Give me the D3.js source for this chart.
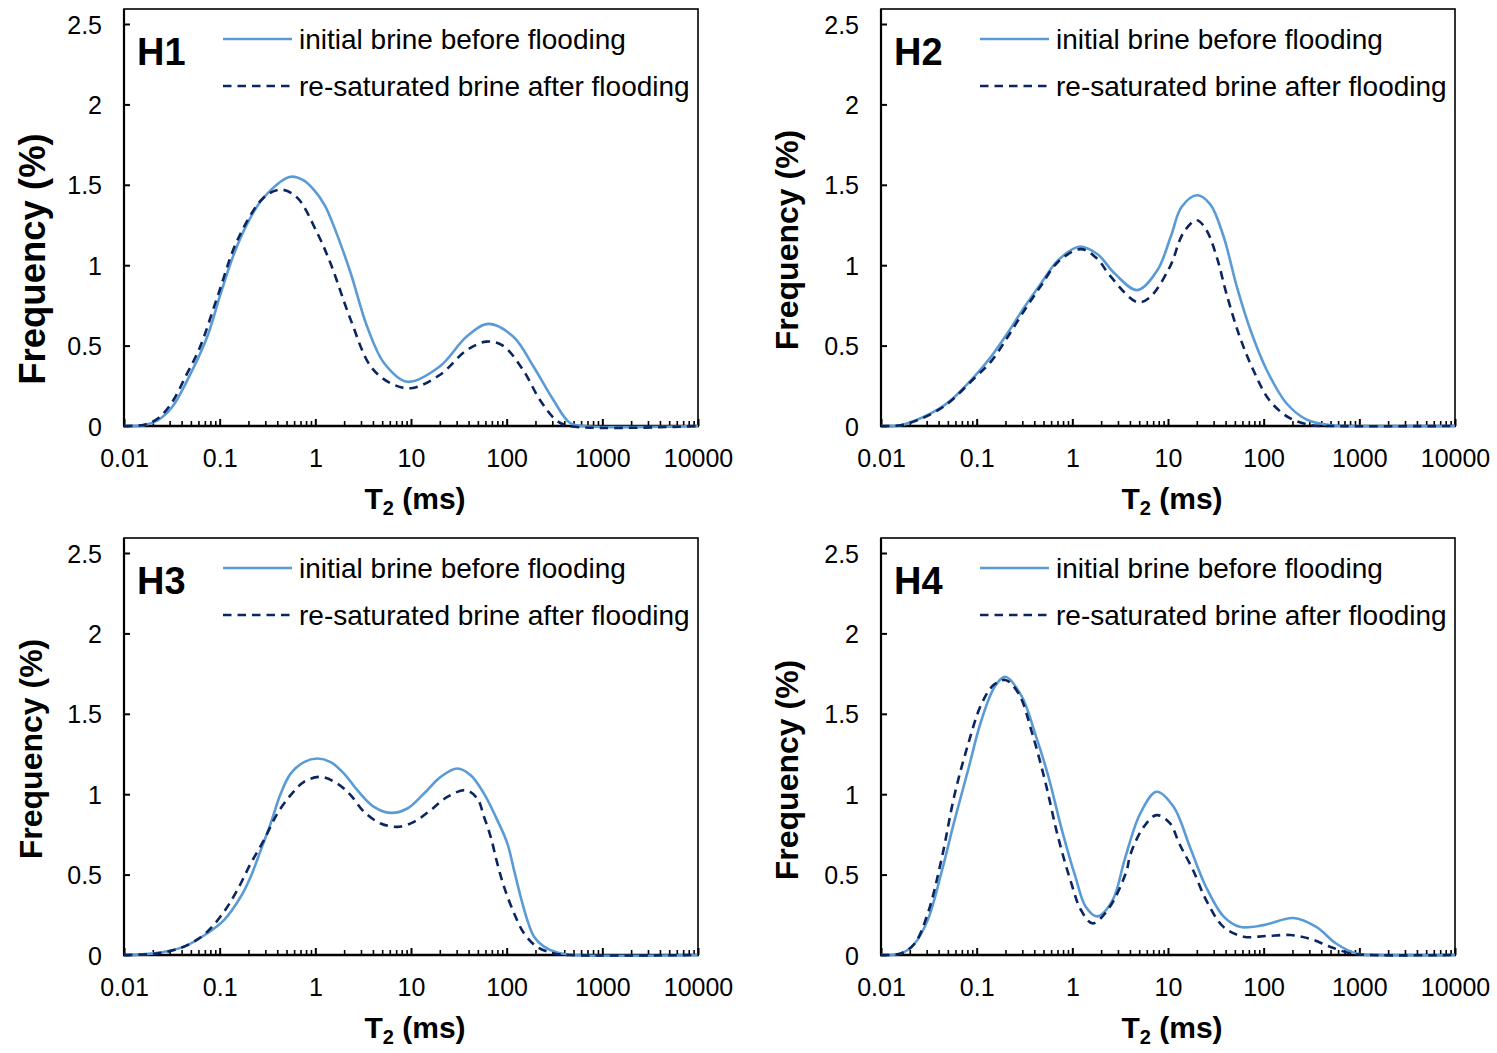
<!DOCTYPE html>
<html><head><meta charset="utf-8">
<script src="https://cdn.jsdelivr.net/npm/d3@7"></script>
<style>html,body{margin:0;padding:0;background:#fff;} svg{display:block;}</style>
</head><body>
<svg id="chart" width="1497" height="1053"></svg>
<script>
// ---------- data (T2 in ms, frequency in %) ----------
const panelNames = ["H1", "H2", "H3", "H4"];
const seriesNames = ["initial brine before flooding", "re-saturated brine after flooding"];
const xTickValues = [0.01, 0.1, 1, 10, 100, 1000, 10000];
const xTickLabels = ["0.01", "0.1", "1", "10", "100", "1000", "10000"];
const yTickValues = [0, 0.5, 1, 1.5, 2, 2.5];
const yTickLabels = ["0", "0.5", "1", "1.5", "2", "2.5"];

const h1InitT2 = [0.01, 0.0162, 0.0224, 0.0316, 0.0501, 0.0741, 0.102, 0.141, 0.195, 0.288, 0.55, 0.741, 0.977, 1.259, 1.567, 2.344, 3.467, 5.248, 9.12, 19.95, 38.02, 64.57, 117.5, 190.5, 309, 457.1, 631, 10000];
const h1Init   = [0, 0.005, 0.035, 0.115, 0.33, 0.555, 0.82, 1.07, 1.26, 1.42, 1.55, 1.53, 1.465, 1.37, 1.24, 0.95, 0.62, 0.39, 0.275, 0.37, 0.555, 0.635, 0.555, 0.37, 0.16, 0.02, 0, 0];
const h1ResatT2 = [0.01, 0.0162, 0.0224, 0.0316, 0.0442, 0.0622, 0.0968, 0.153, 0.288, 0.437, 0.646, 1.047, 1.445, 2.344, 3.80, 6.166, 10, 19.95, 38.02, 61.66, 91.2, 147.9, 223.9, 331.1, 446.7, 10000];
const h1Resat   = [0, 0.008, 0.045, 0.145, 0.31, 0.49, 0.82, 1.155, 1.42, 1.47, 1.42, 1.2, 1.01, 0.66, 0.37, 0.265, 0.235, 0.317, 0.47, 0.525, 0.50, 0.35, 0.16, 0.035, 0, 0];

const h2InitT2 = [0.01, 0.0162, 0.0263, 0.0398, 0.0537, 0.0955, 0.141, 0.209, 0.316, 0.468, 0.708, 1.175, 1.82, 2.754, 4.786, 7.762, 10.72, 13.8, 19.95, 27.54, 38.02, 52.48, 72.44, 107.2, 173.8, 281.8, 501.2, 1000, 10000];
const h2Init   = [0, 0.005, 0.05, 0.105, 0.16, 0.31, 0.43, 0.575, 0.74, 0.885, 1.03, 1.115, 1.07, 0.95, 0.845, 0.97, 1.18, 1.36, 1.435, 1.38, 1.18, 0.865, 0.60, 0.35, 0.14, 0.04, 0.005, 0, 0];
const h2ResatT2 = [0.01, 0.0162, 0.0263, 0.0398, 0.0537, 0.0955, 0.141, 0.209, 0.316, 0.468, 0.708, 1.23, 1.82, 2.51, 4.786, 6.457, 10.47, 14.45, 19.95, 25.12, 32.36, 40.74, 56.23, 77.62, 114.8, 186.2, 316.2, 501.2, 10000];
const h2Resat   = [0, 0.005, 0.045, 0.10, 0.155, 0.30, 0.40, 0.55, 0.72, 0.87, 1.02, 1.10, 1.04, 0.93, 0.77, 0.80, 0.99, 1.20, 1.28, 1.22, 1.05, 0.825, 0.555, 0.35, 0.16, 0.05, 0.005, 0, 0];

const h3InitT2 = [0.01, 0.0206, 0.0424, 0.0743, 0.111, 0.166, 0.211, 0.269, 0.341, 0.435, 0.552, 0.762, 1.05, 1.445, 1.995, 2.748, 4.10, 6.12, 9.16, 13.68, 20.42, 30.48, 42.07, 57.94, 79.8, 101.6, 119.4, 140, 164.4, 193.2, 245.5, 338.1, 501.2, 10000];
const h3Init   = [0, 0.01, 0.052, 0.135, 0.217, 0.362, 0.487, 0.652, 0.818, 1.004, 1.128, 1.2, 1.222, 1.2, 1.128, 1.025, 0.921, 0.884, 0.911, 1.004, 1.108, 1.16, 1.118, 1.004, 0.839, 0.694, 0.528, 0.362, 0.217, 0.114, 0.052, 0.015, 0, 0];
const h3ResatT2 = [0.01, 0.0206, 0.0333, 0.0498, 0.0743, 0.111, 0.153, 0.211, 0.290, 0.401, 0.552, 0.762, 1.138, 1.698, 2.339, 3.228, 4.819, 7.194, 10.74, 16.07, 23.99, 37.24, 49.32, 57.94, 68.08, 79.8, 93.76, 119.4, 151.7, 208.9, 312.6, 446.7, 10000];
const h3Resat   = [0, 0.008, 0.031, 0.072, 0.145, 0.269, 0.404, 0.569, 0.714, 0.880, 0.994, 1.077, 1.108, 1.066, 0.994, 0.890, 0.818, 0.797, 0.828, 0.901, 0.983, 1.025, 0.973, 0.86, 0.735, 0.57, 0.425, 0.26, 0.135, 0.05, 0.01, 0, 0];

const h4InitT2 = [0.01, 0.0162, 0.0224, 0.0309, 0.0427, 0.0589, 0.0813, 0.112, 0.155, 0.2, 0.295, 0.407, 0.562, 0.776, 1.072, 1.38, 1.82, 2.63, 3.548, 5.13, 7.586, 11.48, 16.98, 25.12, 38.02, 56.23, 100, 204.2, 354.8, 575.4, 933.3, 1585, 10000];
const h4Init   = [0, 0.01, 0.07, 0.22, 0.51, 0.84, 1.15, 1.46, 1.67, 1.73, 1.61, 1.38, 1.11, 0.78, 0.49, 0.30, 0.24, 0.34, 0.60, 0.88, 1.015, 0.92, 0.67, 0.42, 0.24, 0.175, 0.186, 0.23, 0.175, 0.07, 0.01, 0, 0];
const h4ResatT2 = [0.01, 0.0162, 0.0224, 0.0309, 0.0427, 0.0589, 0.0813, 0.112, 0.151, 0.2, 0.275, 0.380, 0.525, 0.708, 0.977, 1.23, 1.62, 2.344, 3.63, 4.07, 5.623, 7.586, 10.47, 13.18, 18.2, 25.12, 38.02, 61.66, 107.2, 190.5, 309, 501.2, 812.8, 1259, 10000];
const h4Resat   = [0, 0.01, 0.07, 0.26, 0.59, 1.0, 1.31, 1.56, 1.68, 1.71, 1.625, 1.38, 1.07, 0.735, 0.445, 0.28, 0.197, 0.28, 0.51, 0.63, 0.80, 0.87, 0.82, 0.69, 0.53, 0.34, 0.175, 0.114, 0.118, 0.124, 0.10, 0.05, 0.01, 0, 0];

const initT2 = [h1InitT2, h2InitT2, h3InitT2, h4InitT2];
const initVals = [h1Init, h2Init, h3Init, h4Init];
const resatT2 = [h1ResatT2, h2ResatT2, h3ResatT2, h4ResatT2];
const resatVals = [h1Resat, h2Resat, h3Resat, h4Resat];

// ---------- layout ----------
const FONT = "'Liberation Sans', Arial, Helvetica, sans-serif";
const W = 574, H = 417;
const panelPos = [
  {x: 124, y: 9,   ytx: 32,  yty: 259, ytSize: 36.5},
  {x: 881, y: 9,   ytx: 787, yty: 240, ytSize: 32},
  {x: 124, y: 538, ytx: 31,  yty: 749, ytSize: 32},
  {x: 881, y: 538, ytx: 787, yty: 770, ytSize: 32}
];
const solidColor = "#5b9bd5";
const dashColor = "#0b2561";

const svg = d3.select("#chart");
const x = d3.scaleLog().domain([0.01, 10000]).range([0, W]);
const y = d3.scaleLinear().domain([0, 2.5]).range([H, H - 402]);

const minorTicks = [];
for (let d = -2; d < 4; d++) for (let k = 2; k <= 9; k++) minorTicks.push(k * Math.pow(10, d));

const line = d3.line().x(d => x(d.t)).y(d => Math.min(y(0), y(d.v))).curve(d3.curveCatmullRom.alpha(0.5));

panelNames.forEach((name, i) => {
  const p = panelPos[i];
  const g = svg.append("g").attr("transform", `translate(${p.x},${p.y})`);

  // box
  g.append("rect").attr("x", 0).attr("y", 0).attr("width", W).attr("height", H)
    .attr("fill", "none").attr("stroke", "#000").attr("stroke-width", 1.6);
  g.append("line").attr("x1", 0).attr("x2", 0).attr("y1", 0).attr("y2", H)
    .attr("stroke", "#000").attr("stroke-width", 2.2);
  g.append("line").attr("x1", -1).attr("x2", W + 1).attr("y1", H).attr("y2", H)
    .attr("stroke", "#000").attr("stroke-width", 2.6);

  // y axis
  const ya = g.append("g").call(d3.axisLeft(y).tickValues(yTickValues)
      .tickFormat((d, j) => yTickLabels[j]).tickSizeInner(-6).tickSizeOuter(0).tickPadding(22));
  ya.select(".domain").remove();
  ya.selectAll("line").attr("stroke", "#000").attr("stroke-width", 2);
  ya.selectAll("text").attr("font-family", FONT).attr("font-size", 25).attr("fill", "#000").attr("dy", "0.36em");

  // x axis majors
  const xa = g.append("g").attr("transform", `translate(0,${H})`)
    .call(d3.axisBottom(x).tickValues(xTickValues)
      .tickFormat((d, j) => xTickLabels[j]).tickSizeInner(-7).tickSizeOuter(0).tickPadding(23));
  xa.select(".domain").remove();
  xa.selectAll("line").attr("stroke", "#000").attr("stroke-width", 2);
  xa.selectAll("text").attr("font-family", FONT).attr("font-size", 25).attr("fill", "#000");
  // x axis minors
  const xm = g.append("g").attr("transform", `translate(0,${H})`)
    .call(d3.axisBottom(x).tickValues(minorTicks).tickFormat("").tickSizeInner(-5).tickSizeOuter(0));
  xm.select(".domain").remove();
  xm.selectAll("line").attr("stroke", "#000").attr("stroke-width", 1.6);

  // curves
  const dInit = initT2[i].map((t, j) => ({t, v: initVals[i][j]}));
  const dResat = resatT2[i].map((t, j) => ({t, v: resatVals[i][j]}));
  g.append("path").datum(dInit).attr("d", line).attr("fill", "none")
    .attr("stroke", solidColor).attr("stroke-width", 2.6);
  g.append("path").datum(dResat).attr("d", line).attr("fill", "none")
    .attr("stroke", dashColor).attr("stroke-width", 2.6).attr("stroke-dasharray", "8.5,6");

  // panel label
  g.append("text").attr("x", 13).attr("y", 56).text(name)
    .attr("font-family", FONT).attr("font-size", 38).attr("font-weight", "bold").attr("fill", "#000");

  // legend
  const leg = [{c: solidColor, dash: null, yy: 30}, {c: dashColor, dash: "8.5,6", yy: 77}];
  leg.forEach((l, j) => {
    g.append("line").attr("x1", 99).attr("x2", 168).attr("y1", l.yy).attr("y2", l.yy)
      .attr("stroke", l.c).attr("stroke-width", 2.6).attr("stroke-dasharray", l.dash);
    g.append("text").attr("x", 175).attr("y", l.yy + 9.5).text(seriesNames[j])
      .attr("font-family", FONT).attr("font-size", 28).attr("fill", "#000");
  });

  // x axis title
  const xt = g.append("text").attr("x", W / 2 + 4).attr("y", H + 83).attr("text-anchor", "middle")
    .attr("font-family", FONT).attr("font-size", 30).attr("font-weight", "bold").attr("fill", "#000");
  xt.append("tspan").text("T");
  xt.append("tspan").text("2").attr("font-size", 20).attr("dy", 6);
  xt.append("tspan").text(" (ms)").attr("dy", -6);

  // y axis title
  svg.append("text").attr("transform", `translate(${p.ytx},${p.yty}) rotate(-90)`)
    .attr("text-anchor", "middle").attr("dy", "0.35em")
    .attr("font-family", FONT).attr("font-size", p.ytSize).attr("font-weight", "bold").attr("fill", "#000")
    .text("Frequency (%)");
});
</script>
</body></html>
